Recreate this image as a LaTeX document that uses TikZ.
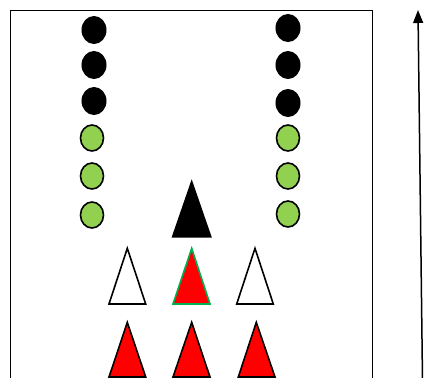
\documentclass[tikz,border=0pt]{standalone}
\usetikzlibrary{shapes.geometric,arrows.meta}
\definecolor{lgreen}{HTML}{92D050}
\definecolor{dgreen}{HTML}{00B050}
\definecolor{cred}{HTML}{FF0000}
\begin{document}
\begin{tikzpicture}[x=1pt,y=-1pt,
  blackdot/.style={ellipse,draw=black,fill=black,line width=1pt,minimum width=24pt,minimum height=27pt,inner sep=0pt},
  greendot/.style={ellipse,draw=black,fill=lgreen,line width=1.6pt,minimum width=23pt,minimum height=26pt,inner sep=0pt},
  tri/.style={line width=1.6pt,line join=miter}]
\useasboundingbox (0,0) rectangle (424,378);
\draw[line width=1pt] (10.5,380) -- (10.5,10.5) -- (372.5,10.5) -- (372.5,380);
% left column
\node[blackdot] (lb1) at (94,30) {};
\node[blackdot] (lb2) at (94,65) {};
\node[blackdot] (lb3) at (94,101) {};
\node[greendot] (lg1) at (92,138) {};
\node[greendot] (lg2) at (92,176) {};
\node[greendot] (lg3) at (92,215) {};
% right column
\node[blackdot] (rb1) at (288,28) {};
\node[blackdot] (rb2) at (288,65) {};
\node[blackdot] (rb3) at (288,103) {};
\node[greendot] (rg1) at (288,138) {};
\node[greendot] (rg2) at (288,176) {};
\node[greendot] (rg3) at (288,214) {};
% black triangle
\draw[tri,fill=black] (191.7,181.7) -- (210.7,236.7) -- (172.7,236.7) -- cycle;
% row 2
\draw[tri,fill=white] (127.3,248.3) -- (145.7,304) -- (109,304) -- cycle;
\draw[tri,draw=dgreen,fill=cred] (191.7,248.3) -- (210,304) -- (173,304) -- cycle;
\draw[tri,fill=white] (255,248.3) -- (273.3,304) -- (236.7,304) -- cycle;
% row 3
\draw[tri,fill=cred] (127.3,322.3) -- (145.7,377) -- (109,377) -- cycle;
\draw[tri,fill=cred] (191.7,322.3) -- (210,377) -- (173,377) -- cycle;
\draw[tri,fill=cred] (256.3,322.3) -- (275,377) -- (238.3,377) -- cycle;
% arrow
\coordinate (abot) at (422.5,380);
\coordinate (atop) at (418,10);
\draw[line width=1.5pt,-{Triangle[length=13pt,width=10pt]}] (abot) -- (atop);
\end{tikzpicture}
\end{document}
